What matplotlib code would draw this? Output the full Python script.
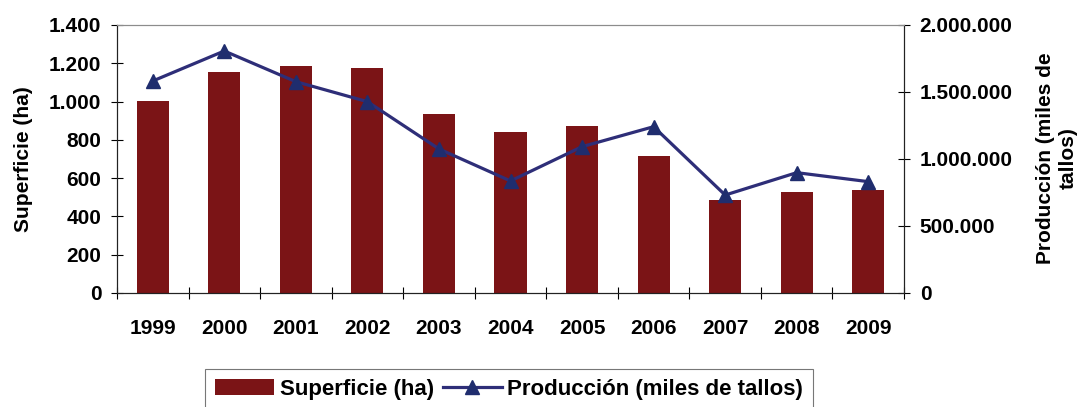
import numpy as np
import matplotlib
matplotlib.use('Agg')
from matplotlib import pyplot as plt
from matplotlib.ticker import FuncFormatter

# Datos
anios = ['1999', '2000', '2001', '2002', '2003', '2004', '2005', '2006', '2007', '2008', '2009']
superficie = [1005, 1154, 1186, 1175, 935, 841, 872, 716, 486, 528, 538]
produccion = [1582000, 1806000, 1577000, 1428000, 1075000, 836000, 1092000, 1241000, 731000, 898000, 831000]

plt.rcParams['font.family'] = ['Liberation Sans', 'DejaVu Sans']
plt.rcParams['font.weight'] = 'bold'

def miles(v, pos):
    return f'{int(v):,}'.replace(',', '.')

fig = plt.figure(figsize=(10.81, 4.07), dpi=100)
ax = fig.add_axes([0.1082, 0.2801, 0.7281, 0.6585])
ax2 = ax.twinx()

x = np.arange(len(anios))
barras = ax.bar(x, superficie, width=0.45, color='#7B1416', label='Superficie (ha)', zorder=2)
linea, = ax2.plot(x, produccion, color='#2E2E78', lw=2.3, marker='^', markersize=10,
                  markerfacecolor='#1F2D6E', markeredgecolor='#1F2D6E', label='Producción (miles de tallos)')

ax.set_xlim(-0.5, len(anios) - 0.5)
ax.set_ylim(0, 1400)
ax.set_yticks(range(0, 1401, 200))
ax.yaxis.set_major_formatter(FuncFormatter(miles))
ax2.set_ylim(0, 2000000)
ax2.set_yticks(range(0, 2000001, 500000))
ax2.yaxis.set_major_formatter(FuncFormatter(miles))

ax.set_xticks(x)
ax.set_xticklabels(anios)
ax.set_xticks(np.arange(-0.5, len(anios), 1), minor=True)
ax.tick_params(axis='x', which='major', length=0, pad=19, labelsize=15)
ax.tick_params(axis='x', which='minor', direction='inout', length=8.5, width=0.8)
ax.tick_params(axis='y', direction='inout', length=8.5, width=0.8, labelsize=15, pad=7)
ax2.tick_params(axis='y', direction='inout', length=8.5, width=0.8, labelsize=15, pad=7)

for a in (ax, ax2):
    a.spines['top'].set_color('#8C8C8C')
    a.spines['left'].set_color('#222222')
    a.spines['right'].set_color('#222222')
    a.spines['bottom'].set_color('#222222')

fig.text(0.0213, 0.609, 'Superficie (ha)', rotation=90, ha='center', va='center',
         fontsize=15, fontweight='bold')
fig.text(0.9775, 0.612, 'Producción (miles de\ntallos)', rotation=90, ha='center', va='center',
         multialignment='center', fontsize=15, fontweight='bold', linespacing=1.25)

leg = fig.legend([barras, linea], ['Superficie (ha)', 'Producción (miles de tallos)'],
                 loc='upper center', bbox_to_anchor=(0.471, 0.0934), ncol=2, frameon=True,
                 fancybox=False, edgecolor='#555555', fontsize=16, handlelength=2.65,
                 handleheight=0.75, columnspacing=0.4, handletextpad=0.25, borderpad=0.45,
                 borderaxespad=0)
leg.get_frame().set_linewidth(0.8)

fig.savefig('out.png', dpi=100)
